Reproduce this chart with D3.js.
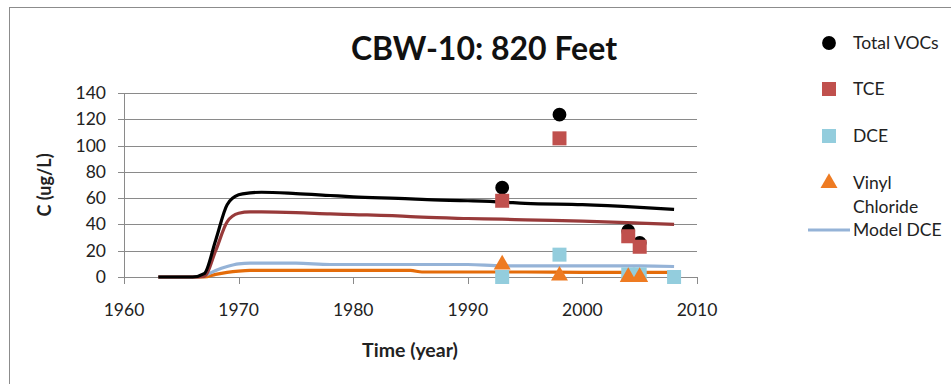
<!DOCTYPE html>
<html>
<head>
<meta charset="utf-8">
<script src="https://cdn.jsdelivr.net/npm/d3@7"></script>
<style>
  body { margin: 0; background: #fff; }
  svg text { font-family: Lato, "Open Sans", sans-serif; fill: #222; }
</style>
</head>
<body>
<div id="chart"></div>
<script>
// model curves
var modelYears = [1963, 1966, 1967, 1968, 1969, 1970, 1971, 1972, 1975, 1978, 1980, 1985, 1986, 1990, 1993, 1995, 2000, 2005, 2008];
var modelTotal = [0, 0, 2.5, 28, 55, 62.5, 64, 64.5, 63.5, 62, 61, 59.5, 59, 58, 57, 56, 55, 53, 51.5];
var modelTCE   = [0, 0, 0.5, 20, 42, 48.5, 49.5, 49.5, 49, 48, 47.5, 46, 45.5, 44.5, 44, 43.5, 42.5, 41, 40];
var modelDCE   = [0, 0, 1, 5, 8, 10, 10.5, 10.5, 10.5, 9.5, 9.5, 9.5, 9.5, 9.5, 8.5, 8.5, 8.5, 8.5, 8];
var modelVC    = [0, 0, 0, 2, 3.5, 4.5, 5, 5, 5, 5, 5, 5, 3.8, 3.8, 3.8, 3.8, 3.5, 3.5, 3.5];

// measured samples
var vocYears = [1993, 1998, 2004, 2005];
var vocTotal = [68, 123.5, 35, 26];
var vocTCE   = [58, 105.5, 31, 23];
var dceYears = [1993, 1998, 2004, 2005, 2008];
var vocDCE   = [0, 17, 2, 2, 0];
var vcYears  = [1993, 1998, 2004, 2005];
var vocVC    = [9.5, 1, 0, 0];

var xTicks = [1960, 1970, 1980, 1990, 2000, 2010];
var yTicks = [0, 20, 40, 60, 80, 100, 120, 140];

var legendItems = [
  {label: "Total VOCs", type: "circle", color: "#000"},
  {label: "TCE", type: "square", color: "#c0504d"},
  {label: "DCE", type: "square", color: "#93cddd"},
  {label: ["Vinyl", "Chloride"], type: "triangle", color: "#ee7b22"},
  {label: "Model DCE", type: "line", color: "#95b3d7"}
];

var width = 951, height = 384;

var svg = d3.select("#chart")
  .append("svg")
    .attr("width", width)
    .attr("height", height);

// outer chart frame (runs off the page on the right and bottom)
svg.append("rect")
  .attr("x", 9.5).attr("y", 7.5)
  .attr("width", 960).attr("height", 400)
  .attr("fill", "none")
  .attr("stroke", "#8c8c8c");

var x = d3.scaleLinear().domain([1960, 2010]).range([124, 697]);
var y = d3.scaleLinear().domain([0, 140]).range([277, 93]);

// gridlines
svg.append("g")
  .selectAll("line")
  .data(yTicks)
  .enter()
  .append("line")
    .attr("x1", x(1960) - 6)
    .attr("x2", x(2010))
    .attr("y1", function(d) { return Math.round(y(d)) + 0.5; })
    .attr("y2", function(d) { return Math.round(y(d)) + 0.5; })
    .attr("stroke", "#8a8a8a");

// y axis line
svg.append("line")
  .attr("x1", x(1960) + 0.5).attr("x2", x(1960) + 0.5)
  .attr("y1", y(140)).attr("y2", y(0))
  .attr("stroke", "#8a8a8a");

// x ticks
svg.append("g")
  .selectAll("line")
  .data(xTicks)
  .enter()
  .append("line")
    .attr("x1", function(d) { return Math.round(x(d)) + 0.5; })
    .attr("x2", function(d) { return Math.round(x(d)) + 0.5; })
    .attr("y1", y(0))
    .attr("y2", y(0) + 7)
    .attr("stroke", "#8a8a8a");

// tick labels
svg.append("g")
  .selectAll("text")
  .data(yTicks)
  .enter()
  .append("text")
    .attr("x", 106)
    .attr("y", function(d) { return y(d) + 6; })
    .attr("text-anchor", "end")
    .style("font-size", "17.5px")
    .text(function(d) { return d; });

svg.append("g")
  .selectAll("text")
  .data(xTicks)
  .enter()
  .append("text")
    .attr("x", function(d) { return x(d); })
    .attr("y", 316)
    .attr("text-anchor", "middle")
    .style("font-size", "17.5px")
    .text(function(d) { return d; });

// titles
svg.append("text")
  .attr("x", 484).attr("y", 60)
  .attr("text-anchor", "middle")
  .style("font-size", "32px")
  .style("font-weight", "bold")
  .style("fill", "#111")
  .text("CBW-10: 820 Feet");

svg.append("text")
  .attr("x", 410).attr("y", 357)
  .attr("text-anchor", "middle")
  .style("font-size", "19.5px")
  .style("font-weight", "bold")
  .text("Time (year)");

svg.append("text")
  .attr("transform", "translate(51," + y(70) + ") rotate(-90)")
  .attr("text-anchor", "middle")
  .style("font-size", "18px")
  .style("font-weight", "bold")
  .text("C (ug/L)");

// model lines
var line = d3.line()
  .x(function(d) { return x(d[0]); })
  .y(function(d) { return y(d[1]); })
  .curve(d3.curveMonotoneX);

var models = [
  {values: modelVC, color: "#e46c0a"},
  {values: modelDCE, color: "#95b3d7"},
  {values: modelTCE, color: "#983a3a"},
  {values: modelTotal, color: "#000"}
];

models.forEach(function(m) {
  svg.append("path")
    .datum(d3.zip(modelYears, m.values))
    .attr("d", line)
    .attr("fill", "none")
    .attr("stroke", m.color)
    .attr("stroke-width", 3.2)
    .attr("stroke-linejoin", "round");
});

// sample markers
var sym = {
  circle: d3.symbol().type(d3.symbolCircle).size(150),
  square: d3.symbol().type(d3.symbolSquare).size(196),
  triangle: d3.symbol().type(d3.symbolTriangle).size(125)
};

function markers(years, vals, type, color) {
  svg.append("g")
    .selectAll("path")
    .data(d3.zip(years, vals))
    .enter()
    .append("path")
      .attr("transform", function(d) { return "translate(" + x(d[0]) + "," + y(d[1]) + ")"; })
      .attr("d", sym[type])
      .attr("fill", color);
}

markers(vocYears, vocTotal, "circle", "#000");
markers(vocYears, vocTCE, "square", "#c0504d");
markers(dceYears, vocDCE, "square", "#93cddd");
markers(vcYears, vocVC, "triangle", "#ee7b22");

// legend
var legendY = [43, 89, 136, 183, 230];
var legend = svg.append("g");
legendItems.forEach(function(item, i) {
  var ly = legendY[i];
  if (item.type == "line") {
    legend.append("line")
      .attr("x1", 808).attr("x2", 850)
      .attr("y1", ly).attr("y2", ly)
      .attr("stroke", item.color)
      .attr("stroke-width", 3.2);
  } else {
    legend.append("path")
      .attr("transform", "translate(829," + ly + ")")
      .attr("d", sym[item.type])
      .attr("fill", item.color);
  }
  var labels = Array.isArray(item.label) ? item.label : [item.label];
  labels.forEach(function(t, j) {
    legend.append("text")
      .attr("x", 853)
      .attr("y", ly + 6 + j * 24)
      .style("font-size", "17.5px")
      .text(t);
  });
});
</script>
</body>
</html>
